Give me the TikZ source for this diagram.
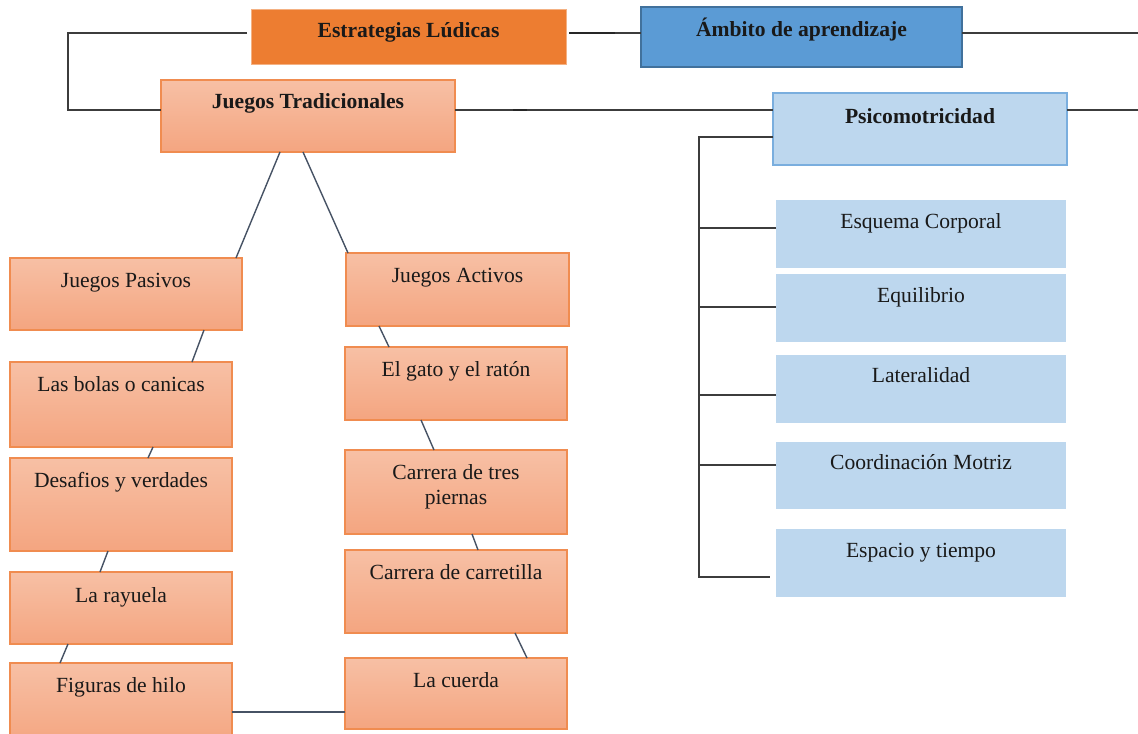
\documentclass[tikz,border=0pt]{standalone}
\usepackage{fontspec}
\setmainfont{Liberation Serif}
\usetikzlibrary{calc,fit}
\definecolor{estfill}{HTML}{ED7D31}
\definecolor{estdraw}{HTML}{F4B183}
\definecolor{otop}{RGB}{247,192,165}
\definecolor{obot}{RGB}{244,165,128}
\definecolor{odraw}{RGB}{240,140,80}
\definecolor{ambfill}{HTML}{5B9BD5}
\definecolor{ambdraw}{HTML}{41719C}
\definecolor{bfill}{HTML}{BDD7EE}
\definecolor{bdraw}{RGB}{122,174,222}
\definecolor{lgray}{RGB}{60,60,60}
\definecolor{lslate}{RGB}{70,82,100}
\newcommand\bx[8]{\node[#1,fit={(#3,#4) (#5,#6)}] (#2) {};
  \node[txt,anchor=base] (#2-t) at ({(#3+#5)/2},#7) {#8};}
\begin{document}
\begin{tikzpicture}[x=0.5pt,y=-0.5pt,
  box/.style={inner sep=0pt,outer sep=0pt},
  estbox/.style={box,fill=estfill,draw=estdraw,line width=0.5pt},
  ambbox/.style={box,fill=ambfill,draw=ambdraw,line width=0.6pt},
  obox/.style={box,top color=otop,bottom color=obot,draw=odraw,line width=0.8pt},
  psbox/.style={box,fill=bfill,draw=bdraw,line width=0.6pt},
  bbox/.style={box,fill=bfill},
  txt/.style={inner sep=0pt,font=\fontsize{10.8pt}{12.5pt}\selectfont,text=black!90},
  btxt/.style={txt,font=\fontsize{10.8pt}{12.5pt}\selectfont\bfseries},
  link/.style={draw=lgray,line width=0.8pt},
  thick link/.style={draw=black!85,line width=1.4pt},
  diag/.style={draw=lslate,line width=0.7pt}]
\useasboundingbox (0,0) rectangle (1138,733);
\clip (0,0) rectangle (1138,733);

% top level boxes
\node[estbox,fit={(251,10) (566,65)}] (est) {};
\node[btxt,anchor=base] (est-t) at (408.5,38) {Estrategias Lúdicas};
\node[ambbox,fit={(641,7) (962,67)}] (amb) {};
\node[btxt,anchor=base] (amb-t) at (801.5,37) {Ámbito de aprendizaje};
\node[obox,fit={(161,80) (455,152)}] (jt) {};
\node[btxt,anchor=base] (jt-t) at (308,108) {Juegos Tradicionales};
\node[psbox,fit={(773,93) (1067,165)}] (ps) {};
\node[btxt,anchor=base] (ps-t) at (920,123) {Psicomotricidad};

% left column
\bx{obox}{jp}{10}{258}{242}{330}{287}{Juegos Pasivos}
\bx{obox}{bo}{10}{362}{232}{447}{391}{Las bolas o canicas}
\bx{obox}{de}{10}{458}{232}{551}{487}{Desafios y verdades}
\bx{obox}{ra}{10}{572}{232}{644}{602}{La rayuela}
\bx{obox}{fi}{10}{663}{232}{745}{692}{Figuras de hilo}

% middle column
\bx{obox}{ja}{346}{253}{569}{326}{282}{Juegos Activos}
\bx{obox}{ga}{345}{347}{567}{420}{376}{El gato y el ratón}
\node[obox,fit={(345,450) (567,534)}] (tr) {};
\node[txt,align=center,anchor=north] (tr-t) at (456,464) {Carrera de tres\\piernas};
\bx{obox}{ca}{345}{550}{567}{633}{579}{Carrera de carretilla}
\bx{obox}{cu}{345}{658}{567}{729}{687}{La cuerda}

% right column
\bx{bbox}{e1}{776}{200}{1066}{268}{228}{Esquema Corporal}
\bx{bbox}{e2}{776}{274}{1066}{342}{302}{Equilibrio}
\bx{bbox}{e3}{776}{355}{1066}{423}{382}{Lateralidad}
\bx{bbox}{e4}{776}{442}{1066}{509}{469}{Coordinación Motriz}
\bx{bbox}{e5}{776}{529}{1066}{597}{557}{Espacio y tiempo}

% free ends
\coordinate (redgeA) at (1138,33);
\coordinate (redgeB) at (1138,110);
\coordinate (bk) at (699,577);
\coordinate (lk) at (68,33);

% top connectors
\draw[link] ($(est.north west)+(-4,23)$) -- (lk) |- ($(jt.north west)+(0,30)$);
\draw[link] ($(est.north east)+(3,23)$) -- ($(amb.north west)+(0,26)$);
\draw[thick link] ($(est.north east)+(3,23)$) -- ($(est.north east)+(49,23)$);
\draw[link] ($(amb.north east)+(0,26)$) -- (redgeA);
\draw[link] ($(jt.north east)+(0,30)$) -- ($(ps.north west)+(0,17)$);
\draw[thick link] ($(jt.north east)+(58,30)$) -- ($(jt.north east)+(72,30)$);
\draw[link] ($(ps.north east)+(0,17)$) -- (redgeB);

% psicomotricidad bracket
\draw[link] ($(ps.north west)+(0,44)$) -| (bk) -- ($(e5.north west)+(-6,48)$);
\draw[link] ($(e1.north west)+(0,28)$) -- ($(e1.north west)+(-77,28)$);
\draw[link] ($(e2.north west)+(0,33)$) -- ($(e2.north west)+(-77,33)$);
\draw[link] ($(e3.north west)+(0,40)$) -- ($(e3.north west)+(-77,40)$);
\draw[link] ($(e4.north west)+(0,23)$) -- ($(e4.north west)+(-77,23)$);

% tree connectors
\draw[diag] ($(jt.south west)+(119,0)$) -- ($(jp.north west)+(226,0)$);
\draw[diag] ($(jt.south west)+(142,0)$) -- ($(ja.north west)+(2,0)$);
\draw[diag] ($(jp.south west)+(194,0)$) -- ($(bo.north west)+(182,0)$);
\draw[diag] ($(bo.south west)+(143,0)$) -- ($(de.north west)+(138,0)$);
\draw[diag] ($(de.south west)+(98,0)$) -- ($(ra.north west)+(90,0)$);
\draw[diag] ($(ra.south west)+(58,0)$) -- ($(fi.north west)+(50,0)$);
\draw[diag] ($(ja.south west)+(33,0)$) -- ($(ga.north west)+(44,0)$);
\draw[diag] ($(ga.south west)+(76,0)$) -- ($(tr.north west)+(89,0)$);
\draw[diag] ($(tr.south west)+(127,0)$) -- ($(ca.north west)+(133,0)$);
\draw[diag] ($(ca.south west)+(170,0)$) -- ($(cu.north west)+(182,0)$);
\draw[diag,line width=1pt] ($(fi.north east)+(0,49)$) -- ($(cu.north west)+(0,54)$);
\end{tikzpicture}
\end{document}
